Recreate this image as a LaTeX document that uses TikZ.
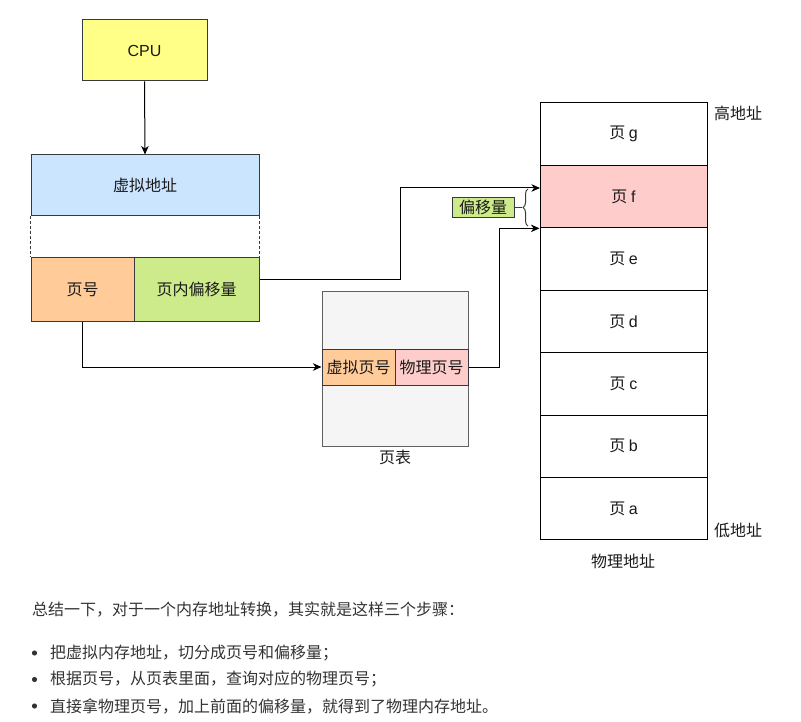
\documentclass[tikz,border=0pt]{standalone}
\usepackage{fontspec}
\setmainfont{Noto Sans CJK SC}
\newfontfamily\latin{Liberation Sans}
\usetikzlibrary{arrows.meta,decorations.pathreplacing}
\definecolor{edge}{HTML}{36393D}
\definecolor{txt}{HTML}{1A1A1A}
\definecolor{bodytxt}{HTML}{333333}
\definecolor{cpuyellow}{HTML}{FFFF88}
\definecolor{vblue}{HTML}{CCE5FF}
\definecolor{orng}{HTML}{FFCC99}
\definecolor{grn}{HTML}{CDEB8B}
\definecolor{pnk}{HTML}{FFCCCC}
\definecolor{tablegray}{HTML}{F5F5F5}

\begin{document}
\begin{tikzpicture}[x=1pt, y=-1pt,
  box/.style={rectangle, draw=edge, line width=1pt, inner sep=0pt, font=\fontsize{16}{19}\selectfont, text=txt},
  page/.style={box, draw=black, minimum width=167pt, minimum height=62.43pt},
  lbl/.style={inner sep=0pt, font=\fontsize{16}{19}\selectfont, text=txt},
  body/.style={inner sep=0pt, anchor=west, font=\fontsize{16}{19}\selectfont, text=bodytxt},
  arr/.style={-{Stealth[length=8.5pt, width=7.5pt, inset=2.5pt]}, line width=1pt}
]
  \useasboundingbox (0,0) rectangle (801,722);

  \node[box, fill=cpuyellow, minimum width=125pt, minimum height=61pt] (cpu) at (144.5,50.5) {\latin CPU};
  \node[box, fill=vblue, minimum width=228pt, minimum height=61pt] (vaddr) at (145,185.5) {虚拟地址};
  \node[box, fill=orng, minimum width=103pt, minimum height=63pt] (pnum) at (82.5,289.5) {页号};
  \node[box, fill=grn, minimum width=125pt, minimum height=63pt] (poff) at (196.5,289.5) {页内偏移量};

  % page table
  \node[box, draw=gray!75!black, fill=tablegray, minimum width=146pt, minimum height=154pt] (ptable) at (395,369) {};
  \node[box, fill=orng, minimum width=73pt, minimum height=36pt] (vpn) at (358.5,367) {虚拟页号};
  \node[box, fill=pnk, minimum width=73pt, minimum height=36pt] (ppn) at (431.5,367) {物理页号};
  \node[lbl] (ptlabel) at (395,457) {页表};

  % physical memory
  \foreach \pg/\col [count=\i from 0] in {g/white, f/pnk, e/white, d/white, c/white, b/white, a/white}
    \node[page, fill=\col] (p\pg) at (623.5,134.2+62.43*\i) {页 {\latin\pg}};
  \node[lbl] (high) at (738,113) {高地址};
  \node[lbl] (low) at (738,530) {低地址};
  \node[lbl] (mem) at (623,561) {物理地址};

  \node[box, fill=grn, minimum width=62pt, minimum height=20pt] (offlbl) at (483,207.5) {偏移量};
  \coordinate (offin) at (540,188);
  \coordinate (bracetip) at (522,207.5);
  \draw[edge, line width=1pt, decorate, decoration={brace, amplitude=5pt}] (528,226) -- (528,189);
  \draw[edge, line width=1pt] (offlbl.east) -- (bracetip);

  \draw[arr] (cpu.south) -- (vaddr.north);
  \draw[edge, line width=1pt, dash pattern=on 3pt off 2pt] (vaddr.south west) -- (pnum.north west);
  \draw[edge, line width=1pt, dash pattern=on 3pt off 2pt] (vaddr.south east) -- (poff.north east);
  \draw[arr] ([yshift=10pt]poff.east) -- ++(141,0) |- (offin);
  \draw[arr] (pnum.south) |- (vpn.west);
  \draw[arr] (ppn.east) -- ++(31,0) |- (pf.south west);

  % summary text
  \node[body] (sum) at (32,610) {总结一下，对于一个内存地址转换，其实就是这样三个步骤：};
  \foreach \step [count=\i from 0] in {把虚拟内存地址，切分成页号和偏移量；, 根据页号，从页表里面，查询对应的物理页号；, 直接拿物理页号，加上前面的偏移量，就得到了物理内存地址。} {
    \fill[bodytxt] (34.5,653+26.5*\i) circle (2.6pt);
    \node[body] (step\i) at (50,653+26.5*\i) {\step};
  }
\end{tikzpicture}
\end{document}
